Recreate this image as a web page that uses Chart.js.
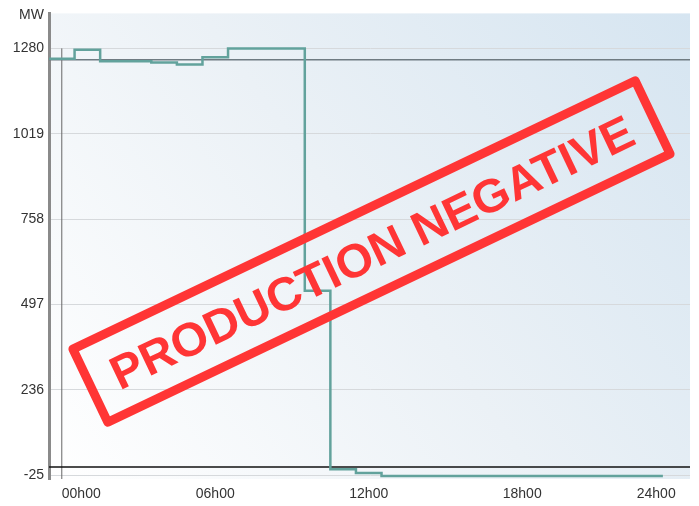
<!DOCTYPE html>
<html>
<head>
<meta charset="utf-8">
<script src="https://cdn.jsdelivr.net/npm/chart.js@4/dist/chart.umd.min.js"></script>
<style>
  html, body { margin: 0; padding: 0; background: #fff; }
  #wrap { width: 699px; height: 506px; }
</style>
</head>
<body>
<div id="wrap"><canvas id="prodChart"></canvas></div>
<script>
// production horaire (MW), une valeur par heure 0h..23h
const production = [1248, 1276, 1241, 1241, 1237, 1231, 1253, 1280, 1280, 1280, 539, -7,
                    -19, -28, -28, -28, -28, -28, -28, -28, -28, -28, -28, -28];
const hourLabels = ['00h00', '06h00', '12h00', '18h00', '24h00'];
const hourTicks = [0, 6, 12, 18, 24];
const yTicks = [-25, 236, 497, 758, 1019, 1280];
const capacityLevel = 1245;
const zeroLevel = 0;
const unitLabel = 'MW';
const stampText = 'PRODUCTION NEGATIVE';

const xMin = -0.5, xMax = 24.56;
const yMin = -37, yMax = 1387;

// chaque valeur couvre l'heure [h-0.5, h+0.5]
const stepPoints = production.map((v, i) => ({ x: i - 0.5, y: v }));
stepPoints.push({ x: production.length - 0.5, y: production[production.length - 1] });

const FONT = '"Liberation Sans", Arial, sans-serif';

// fond dégradé de la zone de tracé
const bgPlugin = {
    id: 'bgGradient',
    beforeDraw(chart) {
        const { ctx, chartArea: a } = chart;
        const g = ctx.createLinearGradient(a.left, a.bottom, a.right, a.top);
        g.addColorStop(0, '#ffffff');
        g.addColorStop(0.5, '#ebf1f6');
        g.addColorStop(1, '#d6e5f1');
        ctx.save();
        ctx.fillStyle = g;
        ctx.fillRect(a.left, a.top, a.right - a.left, a.bottom - a.top);
        ctx.restore();
    }
};

// unité + tampon rouge
const stampPlugin = {
    id: 'stamp',
    afterDraw(chart) {
        const { ctx } = chart;
        ctx.save();
        ctx.font = '14px ' + FONT;
        ctx.fillStyle = '#333';
        ctx.textAlign = 'right';
        ctx.textBaseline = 'middle';
        ctx.fillText(unitLabel, 44, 15);
        ctx.restore();

        ctx.save();
        ctx.translate(371.5, 251.5);
        ctx.rotate(-25.5 * Math.PI / 180);
        ctx.strokeStyle = '#ff3535';
        ctx.lineWidth = 9;
        ctx.lineJoin = 'round';
        ctx.strokeRect(-311.5, -40.5, 623, 81);

        ctx.fillStyle = '#ff3535';
        ctx.font = 'bold 47px ' + FONT;
        ctx.textAlign = 'center';
        ctx.textBaseline = 'alphabetic';
        const w = ctx.measureText(stampText).width;
        ctx.scale(574 / w, 1);
        ctx.fillText(stampText, 0, 17);
        ctx.restore();
    }
};

const ctx = document.getElementById('prodChart').getContext('2d');
new Chart(ctx, {
    type: 'line',
    data: {
        datasets: [
            {
                label: 'Production',
                data: stepPoints,
                borderColor: '#62a29c',
                borderWidth: 2.5,
                stepped: true,
                pointRadius: 0,
                fill: false,
                order: 0
            },
            {
                label: 'capacity',
                data: [{ x: xMin, y: capacityLevel }, { x: xMax, y: capacityLevel }],
                borderColor: '#6f7b82',
                borderWidth: 1.5,
                pointRadius: 0,
                order: 1
            },
            {
                label: 'zero',
                data: [{ x: xMin, y: zeroLevel }, { x: xMax, y: zeroLevel }],
                borderColor: '#111',
                borderWidth: 1.5,
                pointRadius: 0,
                order: 1
            },
            {
                label: 'origin',
                data: [{ x: hourTicks[0], y: yMin }, { x: hourTicks[0], y: yTicks[yTicks.length - 1] }],
                borderColor: '#666',
                borderWidth: 1,
                pointRadius: 0,
                order: 2
            }
        ]
    },
    plugins: [bgPlugin, stampPlugin],
    options: {
        responsive: true,
        maintainAspectRatio: false,
        animation: false,
        layout: { padding: { top: 8, right: 9, left: 0, bottom: 0 } },
        plugins: {
            legend: { display: false },
            tooltip: { enabled: false }
        },
        scales: {
            x: {
                type: 'linear',
                min: xMin,
                max: xMax,
                afterBuildTicks: s => { s.ticks = hourTicks.map(v => ({ value: v })); },
                afterFit: s => { s.height = 27; },
                grid: { display: false, drawTicks: false },
                border: { display: false },
                ticks: {
                    align: 'inner',
                    padding: 7,
                    color: '#333',
                    font: { family: FONT, size: 14 },
                    callback: (v) => hourLabels[hourTicks.indexOf(v)]
                }
            },
            y: {
                min: yMin,
                max: yMax,
                afterBuildTicks: s => { s.ticks = yTicks.map(v => ({ value: v })); },
                afterFit: s => { s.width = 49; },
                grid: { color: '#d6d9dc', lineWidth: 1, drawTicks: false },
                border: { display: true, color: '#8a8a8a', width: 3 },
                ticks: {
                    padding: 5,
                    color: '#333',
                    font: { family: FONT, size: 14 },
                    callback: v => String(v)
                }
            }
        }
    }
});
</script>
</body>
</html>
